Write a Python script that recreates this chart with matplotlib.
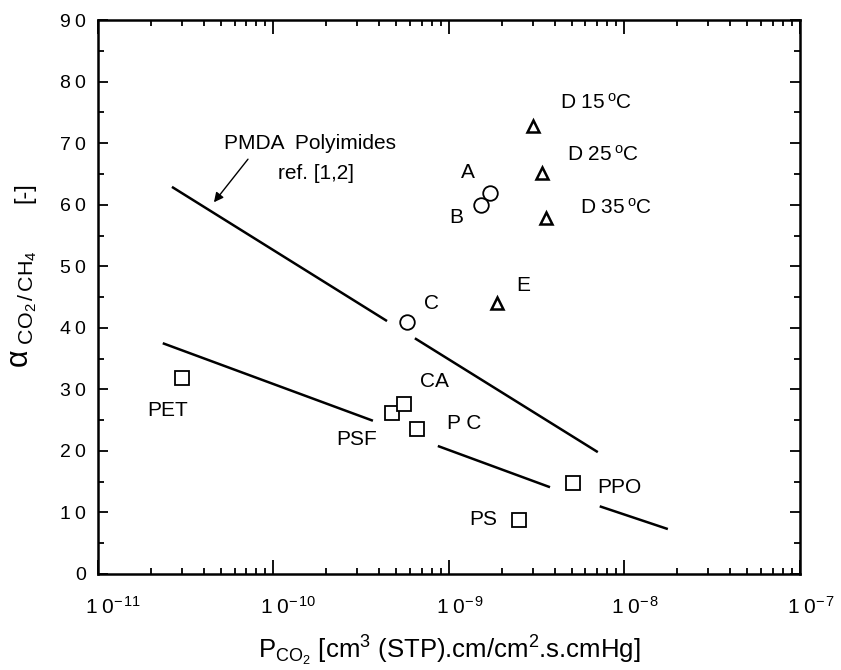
import numpy as np
import matplotlib
matplotlib.use('Agg')
import matplotlib.pyplot as plt
import matplotlib.transforms as mtransforms
from matplotlib.ticker import MultipleLocator, LogLocator, NullFormatter, FuncFormatter

plt.rcParams['font.family'] = ['Liberation Sans', 'DejaVu Sans']
plt.rcParams['mathtext.fontset'] = 'custom'
plt.rcParams['mathtext.rm'] = 'Liberation Sans'
plt.rcParams['mathtext.it'] = 'Liberation Sans:italic'

# circles (A, B, C)
circ_names = ['A', 'B', 'C']
circ_x = [1.71e-9, 1.52e-9, 5.75e-10]
circ_y = [61.9, 59.9, 40.9]

# triangles (D at 15/25/35 C, E)
tri_names = ['D15', 'D25', 'D35', 'E']
tri_x = [3.0e-9, 3.39e-9, 3.6e-9, 1.87e-9]
tri_y = [72.8, 65.1, 57.8, 44.0]

# squares (commercial polymers)
sq_names = ['PET', 'PSF', 'CA', 'PC', 'PPO', 'PS']
sq_x = [3.0e-11, 4.73e-10, 5.55e-10, 6.58e-10, 5.09e-9, 2.5e-9]
sq_y = [31.8, 26.2, 27.6, 23.6, 14.8, 8.8]

# PMDA polyimides trend line (broken around point C)
pmda_x = [[2.64e-11, 4.44e-10], [6.4e-10, 7.06e-9]]
pmda_y = [[62.9, 41.1], [38.3, 19.8]]

# upper bound line for commercial polymers (broken around labels)
low_x = [[2.34e-11, 3.69e-10], [8.65e-10, 3.77e-9], [7.24e-9, 1.77e-8]]
low_y = [[37.5, 24.9], [20.8, 14.1], [11.0, 7.3]]

x_ticks = [1e-11, 1e-10, 1e-9, 1e-8, 1e-7]

fig = plt.figure(figsize=(8.41, 6.70), dpi=100)
ax = fig.add_axes([0.1165, 0.1433, 0.8345, 0.8267])

for xs, ys in zip(pmda_x, pmda_y):
    ax.plot(xs, ys, color='black', lw=1.8, solid_capstyle='butt')
for xs, ys in zip(low_x, low_y):
    ax.plot(xs, ys, color='black', lw=1.8, solid_capstyle='butt')

ax.plot(circ_x, circ_y, 'o', ms=10.5, mfc='white', mec='black', mew=1.3, ls='none')
ax.plot(tri_x, tri_y, '^', ms=8.5, mfc='white', mec='black', mew=1.8, ls='none')
ax.plot(sq_x, sq_y, 's', ms=10.5, mfc='white', mec='black', mew=1.3, ls='none')

fs = 15
# point labels
ax.text(1.28e-9, 65.3, 'A', fontsize=fs, ha='center', va='center')
ax.text(1.10e-9, 58.0, 'B', fontsize=fs, ha='center', va='center')
ax.text(8.0e-10, 44.0, 'C', fontsize=fs, ha='center', va='center')
ax.text(2.64e-9, 46.9, 'E', fontsize=fs, ha='center', va='center')
ax.text(4.28e-9, 76.5, r'D 15$\,^{\mathrm{o}}$C', fontsize=fs, ha='left', va='center')
ax.text(4.70e-9, 68.1, r'D 25$\,^{\mathrm{o}}$C', fontsize=fs, ha='left', va='center')
ax.text(5.57e-9, 59.5, r'D 35$\,^{\mathrm{o}}$C', fontsize=fs, ha='left', va='center')
ax.text(2.5e-11, 26.6, 'PET', fontsize=fs, ha='center', va='center')
ax.text(2.99e-10, 21.8, 'PSF', fontsize=fs, ha='center', va='center')
ax.text(8.3e-10, 31.2, 'CA', fontsize=fs, ha='center', va='center')
ax.text(1.23e-9, 24.4, 'P C', fontsize=fs, ha='center', va='center')
ax.text(9.4e-9, 14.1, 'PPO', fontsize=fs, ha='center', va='center')
ax.text(1.56e-9, 8.9, 'PS', fontsize=fs, ha='center', va='center')

ax.text(1.61e-10, 70.0, 'PMDA  Polyimides', fontsize=fs, ha='center', va='center')
ax.text(1.75e-10, 65.1, 'ref. [1,2]', fontsize=fs, ha='center', va='center')
ax.annotate('', xy=(4.58e-11, 60.4), xytext=(7.16e-11, 67.4),
            arrowprops=dict(arrowstyle='-|>', color='black', lw=1.0,
                            mutation_scale=14, shrinkA=0, shrinkB=0))

ax.set_xscale('log')
ax.set_xlim(1e-11, 1e-7)
ax.set_ylim(0, 90)
ax.yaxis.set_major_locator(MultipleLocator(10))
ax.yaxis.set_minor_locator(MultipleLocator(5))
ax.set_xticks(x_ticks)
ax.xaxis.set_minor_locator(LogLocator(base=10, subs=np.arange(2, 10), numticks=20))
ax.xaxis.set_minor_formatter(NullFormatter())
ax.xaxis.set_major_formatter(FuncFormatter(
    lambda v, _: r'$\mathrm{1\;0^{-\,%d}}$' % round(-np.log10(v))))
ax.yaxis.set_major_formatter(FuncFormatter(
    lambda v, _: r'$\mathrm{' + r'\;'.join(str(int(v))) + '}$'))

ax.tick_params(which='both', direction='in', top=True, right=True, width=1.3)
ax.tick_params(which='major', length=7, labelsize=14)
ax.tick_params(axis='x', which='major', length=10, labelsize=15)
ax.tick_params(which='minor', length=4)
ax.tick_params(axis='x', which='major', pad=16)
ax.tick_params(axis='y', which='major', pad=8)
for s in ax.spines.values():
    s.set_linewidth(1.8)

# the base "10" sits on the tick, exponent hangs to the right
shift = mtransforms.ScaledTranslation(-13 / 100, 0, fig.dpi_scale_trans)
for lbl in ax.get_xticklabels():
    lbl.set_horizontalalignment('left')
    lbl.set_transform(lbl.get_transform() + shift)

ax.set_xlabel(r'P$_{\mathrm{CO_2}}$ [cm$^3$ (STP).cm/cm$^2$.s.cmHg]', fontsize=18.5, labelpad=11)

# y label: alpha with subscript, and the unit separately
fig.text(24 / 841, 1 - 309 / 670, r'$\mathrm{\alpha}$$_{\mathrm{\ CO_2\,/\,CH_4}}$',
         fontsize=22, rotation=90, ha='center', va='center')
fig.text(24 / 841, 1 - 193 / 670, '[-]', fontsize=17, rotation=90, ha='center', va='center')

fig.savefig('out.png', dpi=100)
